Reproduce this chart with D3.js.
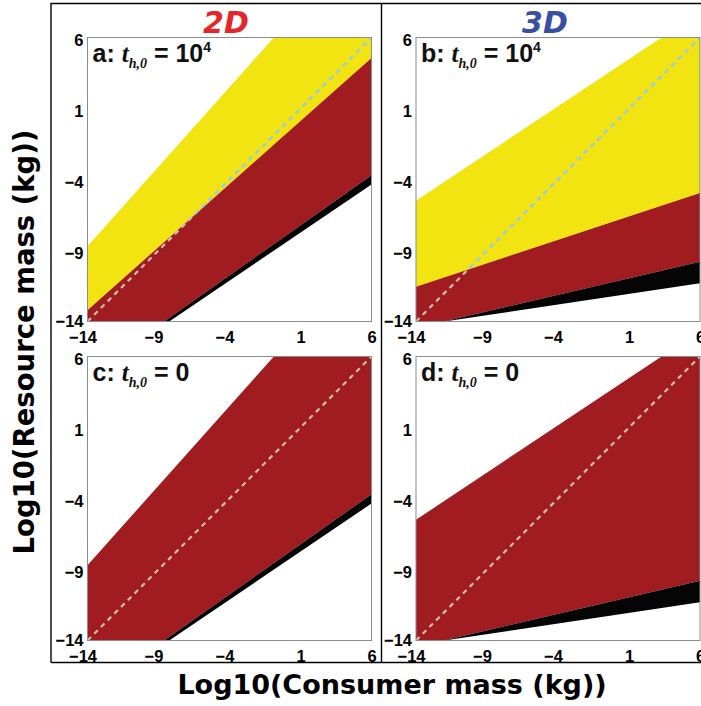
<!DOCTYPE html>
<html><head><meta charset="utf-8">
<script src="https://cdn.jsdelivr.net/npm/d3@7"></script>
<style>body{margin:0;background:#fff;} svg{display:block}</style>
</head><body>
<script>
// ---------- data ----------
const tickValues = [-14, -9, -4, 1, 6];
const domainX = [-14, 6];
const domainY = [-14, 6];
const columnTitles = ["2D", "3D"];
const panelLetters = ["a", "b", "c", "d"];
const panelTh0 = ["10", "10", "0", "0"];
const panelTh0Exp = ["4", "4", "", ""];
// boundary lines: log10 resource mass at consumer mass = boundaryX[0], boundaryX[1]
const boundaryX = [-14, 6];
const upper2D = [-8.7, 13.7];
const yellowRed2D = [-13.2, 4.55];
const redBlack2D = [-17.8, -3.7];
const blackWhite2D = [-17.9, -4.35];
const upper3D = [-5.5, 7.8];
const yellowRed3D = [-11.55, -4.95];
const redBlack3D = [-14.45, -9.8];
const blackWhite3D = [-14.3, -11.3];
const diagonal = [-14, 6];

// ---------- layout ----------
const W = 701, H = 706;
const colLeft = [87.5, 416], rowTop = [37.5, 356.5], size = 284;
const titleOffset = [-3.5, -13];
const colours = { yellow: "#f2e410", red: "#a11c20", black: "#050505" };
const titleColours = ["#e3262b", "#3b4fa2"];
const tickFont = "'Liberation Sans', Arial, sans-serif";
const labelFont = "'Liberation Sans Narrow', 'Liberation Sans', Arial, sans-serif";

const panels = [
  { col: 0, row: 0, bands: [[upper2D, yellowRed2D, "yellow"], [yellowRed2D, redBlack2D, "red"], [redBlack2D, blackWhite2D, "black"]] },
  { col: 1, row: 0, bands: [[upper3D, yellowRed3D, "yellow"], [yellowRed3D, redBlack3D, "red"], [redBlack3D, blackWhite3D, "black"]] },
  { col: 0, row: 1, bands: [[upper2D, redBlack2D, "red"], [redBlack2D, blackWhite2D, "black"]] },
  { col: 1, row: 1, bands: [[upper3D, redBlack3D, "red"], [redBlack3D, blackWhite3D, "black"]] }
];

const svg = d3.select("body").append("svg").attr("width", W).attr("height", H);
const defs = svg.append("defs");

// outer frame
svg.append("path")
  .attr("d", "M51,662.5V3.5H701M381.5,3.5V662.5M51,662.5H701")
  .attr("fill", "none").attr("stroke", "#000").attr("stroke-width", 1.4);

panels.forEach((p, i) => {
  const g = svg.append("g").attr("transform", `translate(${colLeft[p.col]},${rowTop[p.row]})`);
  const x = d3.scaleLinear().domain(domainX).range([0, size]);
  const y = d3.scaleLinear().domain(domainY).range([size, 0]);

  defs.append("clipPath").attr("id", "plot" + i)
    .append("rect").attr("width", size).attr("height", size);

  const area = d3.area()
    .x(d => x(d.x)).y0(d => y(d.lo)).y1(d => y(d.hi));

  const plot = g.append("g").attr("clip-path", `url(#plot${i})`);
  let yellowPath = null;
  p.bands.forEach(b => {
    const pts = boundaryX.map((bx, k) => ({ x: bx, hi: b[0][k], lo: b[1][k] }));
    const dPath = area(pts);
    plot.append("path").attr("d", dPath).attr("fill", colours[b[2]]);
    if (b[2] === "yellow") yellowPath = dPath;
  });

  const line = d3.line().x(d => x(d)).y(d => y(d));
  plot.append("path").attr("d", line(diagonal))
    .attr("fill", "none").attr("stroke", "#cdbfab").attr("stroke-width", 2.2)
    .attr("stroke-dasharray", "5,4.5");
  if (yellowPath) {
    defs.append("clipPath").attr("id", "yel" + i).append("path").attr("d", yellowPath);
    plot.append("g").attr("clip-path", `url(#yel${i})`)
      .append("path").attr("d", line(diagonal))
      .attr("fill", "none").attr("stroke", "#95cfe2").attr("stroke-width", 2.2)
      .attr("stroke-dasharray", "5,4.5");
  }

  g.append("rect").attr("width", size).attr("height", size)
    .attr("fill", "none").attr("stroke", "#8c8c8c").attr("stroke-width", 1);

  // axes
  const gy = g.append("g").call(d3.axisLeft(y).tickValues(tickValues).tickSize(0).tickPadding(4));
  gy.select(".domain").remove();
  gy.attr("font-family", tickFont).attr("font-size", 16.5).attr("font-weight", "bold");
  gy.selectAll("text").attr("fill", "#000").attr("y", d => d === -14 ? 0 : 2.5);

  const gx = g.append("g").attr("transform", `translate(0,${size})`)
    .call(d3.axisBottom(x).tickValues(tickValues).tickSize(0).tickPadding(10));
  gx.select(".domain").remove();
  gx.attr("font-family", tickFont).attr("font-size", 16.5).attr("font-weight", "bold");
  gx.selectAll("text").attr("fill", "#000").attr("dx", d => d < 0 ? -5 : 0);

  // panel label
  const t = g.append("text").attr("x", 5).attr("y", 24)
    .attr("font-family", labelFont).attr("font-weight", "bold").attr("font-size", 25).attr("fill", "#111");
  t.append("tspan").text(panelLetters[i] + ": ");
  t.append("tspan").attr("font-family", "'Liberation Serif', 'Times New Roman', serif")
    .attr("font-style", "italic").text("t");
  t.append("tspan").attr("font-family", "'Liberation Serif', 'Times New Roman', serif")
    .attr("font-style", "italic").attr("font-size", 14).attr("dy", 6).text("h,0");
  t.append("tspan").attr("dy", -6).text(" = " + panelTh0[i]);
  if (panelTh0Exp[i]) t.append("tspan").attr("font-size", 14).attr("dy", -10).text(panelTh0Exp[i]);
});

// column titles
columnTitles.forEach((c, j) => {
  svg.append("text")
    .attr("x", colLeft[j] + size / 2 + titleOffset[j]).attr("y", 33)
    .attr("text-anchor", "middle")
    .attr("font-family", "'DejaVu Sans', sans-serif").attr("font-weight", "bold").attr("font-style", "italic")
    .attr("font-size", 30).attr("fill", titleColours[j]).text(c);
});

// axis titles
svg.append("text").attr("x", 392).attr("y", 694).attr("text-anchor", "middle")
  .attr("font-family", "'DejaVu Sans', sans-serif").attr("font-weight", "bold").attr("font-size", 27)
  .attr("fill", "#000").text("Log10(Consumer mass (kg))");
svg.append("text").attr("transform", "translate(34,342) rotate(-90)").attr("text-anchor", "middle")
  .attr("font-family", "'DejaVu Sans', sans-serif").attr("font-weight", "bold").attr("font-size", 27.5)
  .attr("fill", "#000").text("Log10(Resource mass (kg))");
</script>
</body></html>
